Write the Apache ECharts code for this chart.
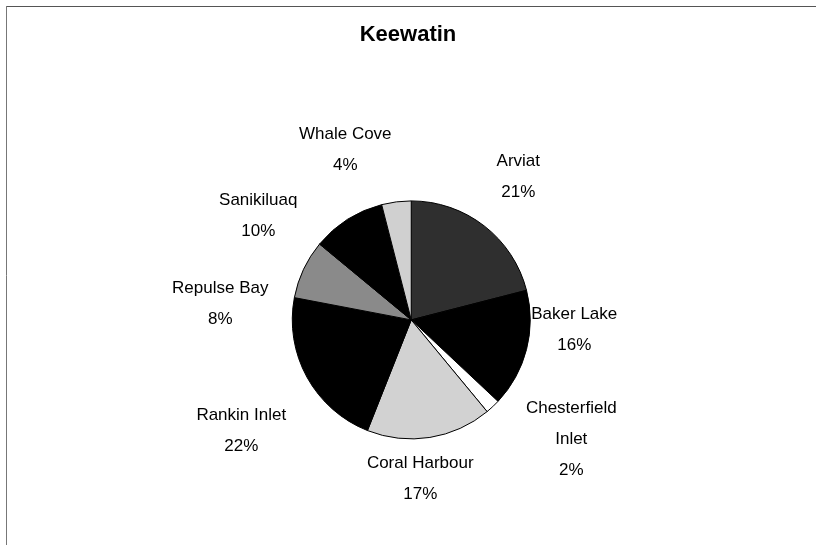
<!DOCTYPE html>
<html>
<head>
<meta charset="utf-8">
<script src="https://cdn.jsdelivr.net/npm/echarts@6/dist/echarts.min.js"></script>
<style>
html,body{margin:0;padding:0;background:#fff;}
#chart{width:816px;height:545px;}
</style>
</head>
<body>
<div id="chart"></div>
<script>
// ---- data ----
var categories = ['Arviat', 'Baker Lake', 'Chesterfield Inlet', 'Coral Harbour', 'Rankin Inlet', 'Repulse Bay', 'Sanikiluaq', 'Whale Cove'];
var values = [21, 16, 2, 17, 22, 8, 10, 4];
var titleText = 'Keewatin';

// ---- styling ----
var sliceColors = ['#2f2f2f', '#000000', '#ffffff', '#d2d2d2', '#000000', '#8a8a8a', '#000000', '#d0d0d0'];
// label centres relative to the pie centre (px)
var labelOffsets = [[107,-143],[163,10],[160,119],[9,159],[-170,111],[-191,-16],[-153,-104],[-66,-170]];
var centerPct = [0.504, 0.587];

var chart = echarts.init(document.getElementById('chart'));
var W = chart.getWidth(), H = chart.getHeight();
var cx = W * centerPct[0], cy = H * centerPct[1];

var data = categories.map(function (c, i) {
  return { name: c, value: values[i], itemStyle: { color: sliceColors[i] } };
});

chart.setOption({
  backgroundColor: '#ffffff',
  animation: false,
  title: {
    text: titleText,
    left: 'center',
    top: 19,
    textStyle: { fontFamily: 'Liberation Sans, Arial, sans-serif', fontSize: 22, fontWeight: 'bold', color: '#000' }
  },
  graphic: [
    { type: 'line', shape: { x1: 6, y1: 6.5, x2: 816, y2: 6.5 }, style: { stroke: '#555', lineWidth: 1 } },
    { type: 'line', shape: { x1: 6.5, y1: 6, x2: 6.5, y2: 545 }, style: { stroke: '#777', lineWidth: 1 } }
  ],
  series: [{
    type: 'pie',
    center: [(centerPct[0] * 100) + '%', (centerPct[1] * 100) + '%'],
    radius: 119,
    startAngle: 90,
    clockwise: true,
    avoidLabelOverlap: false,
    data: data,
    itemStyle: { borderColor: '#000', borderWidth: 1 },
    emphasis: { disabled: true },
    labelLine: { show: false },
    label: {
      show: true,
      position: 'outside',
      formatter: function (p) {
        var n = p.name.length > 14 ? p.name.replace(' ', '\n') : p.name;
        return n + '\n' + Math.round(p.percent) + '%';
      },
      fontFamily: 'Liberation Sans, Arial, sans-serif',
      fontSize: 17,
      lineHeight: 31,
      color: '#000'
    },
    labelLayout: function (p) {
      var o = labelOffsets[p.dataIndex];
      return { x: cx + o[0], y: cy + o[1], align: 'center', verticalAlign: 'middle' };
    }
  }]
});
</script>
</body>
</html>
